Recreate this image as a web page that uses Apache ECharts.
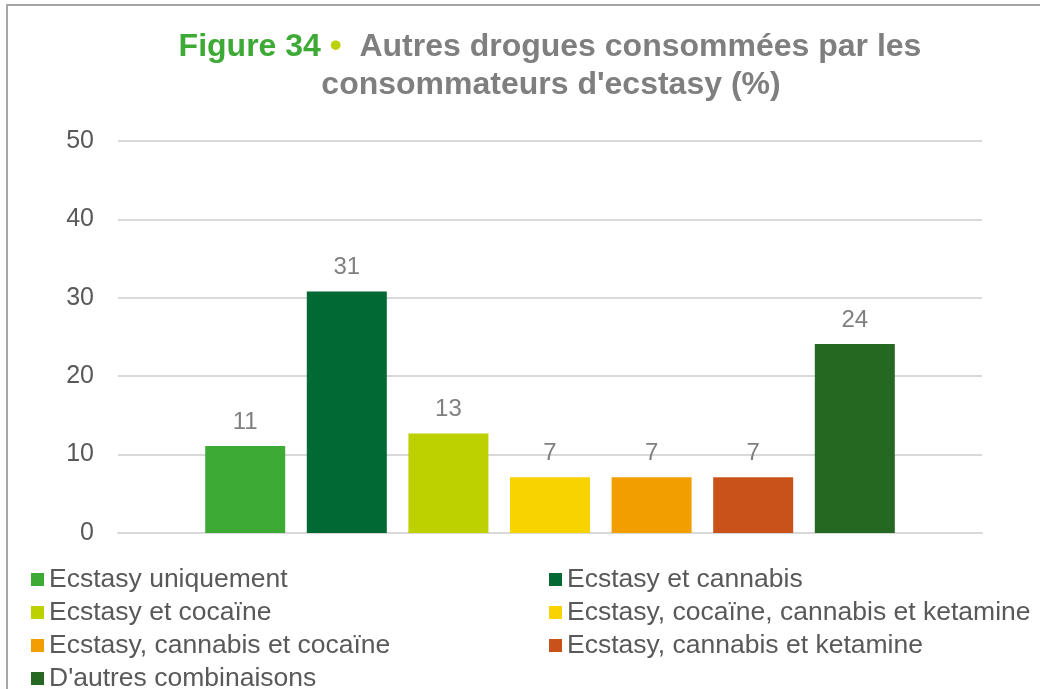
<!DOCTYPE html>
<html>
<head>
<meta charset="utf-8">
<script src="https://cdn.jsdelivr.net/npm/echarts@6/dist/echarts.min.js"></script>
<style>
  html, body { margin: 0; padding: 0; background: #fff; }
  #chart { width: 1040px; height: 689px; }
</style>
</head>
<body>
<div id="chart"></div>
<script>
// series names (one bar each, single category)
const seriesNames = [
  'Ecstasy uniquement',
  'Ecstasy et cannabis',
  'Ecstasy et cocaïne',
  'Ecstasy, cocaïne, cannabis et ketamine',
  'Ecstasy, cannabis et cocaïne',
  'Ecstasy, cannabis et ketamine',
  "D'autres combinaisons"
]
const values = [11.1, 30.8, 12.7, 7.1, 7.1, 7.1, 24.1]
const colors = ['#3DAA35', '#006934', '#BDD000', '#F9D300', '#F29E00', '#C9521A', '#246821']
const yTicks = [0, 10, 20, 30, 40, 50]

const font = '"Liberation Sans", Arial, sans-serif'

const chart = echarts.init(document.getElementById('chart'))

const series = seriesNames.map((name, i) => ({
  name: name,
  type: 'bar',
  data: [values[i]],
  barWidth: 80,
  barGap: '27%',
  itemStyle: { color: colors[i] },
  label: {
    show: true,
    position: 'top',
    distance: 12,
    color: '#7F7F7F',
    fontSize: 24,
    fontFamily: font,
    formatter: p => Math.round(p.value)
  }
}))

const legendBase = {
  orient: 'vertical',
  top: 566,
  height: 140,
  padding: 0,
  icon: 'rect',
  itemWidth: 13,
  itemHeight: 13,
  itemGap: 6,
  selectedMode: false,
  textStyle: { color: '#595959', fontSize: 26.5, lineHeight: 25, fontFamily: font }
}

chart.setOption({
  animation: false,
  backgroundColor: '#fff',
  graphic: [
    {
      type: 'rect',
      shape: { x: 7, y: 5, width: 1100, height: 800 },
      style: { fill: 'none', stroke: '#A6A6A6', lineWidth: 2 },
      silent: true
    },
    {
      type: 'text',
      x: 550, y: 47,
      style: {
        text: '{g|Figure 34} {y|•}  {t|Autres drogues consommées par les}',
        textAlign: 'center',
        textVerticalAlign: 'middle',
        font: 'bold 32px ' + font,
        rich: {
          g: { fill: '#3DAA35', fontSize: 32, fontWeight: 'bold', fontFamily: font },
          y: { fill: '#BDD000', fontSize: 34, fontWeight: 'bold', fontFamily: font },
          t: { fill: '#7F7F7F', fontSize: 32, fontWeight: 'bold', fontFamily: font }
        }
      }
    },
    {
      type: 'text',
      x: 551, y: 85,
      style: {
        text: "consommateurs d'ecstasy (%)",
        textAlign: 'center',
        textVerticalAlign: 'middle',
        font: 'bold 32px ' + font,
        fill: '#7F7F7F'
      }
    }
  ],
  legend: [
    Object.assign({}, legendBase, { left: 31, data: [seriesNames[0], seriesNames[2], seriesNames[4], seriesNames[6]] }),
    Object.assign({}, legendBase, { left: 549, data: [seriesNames[1], seriesNames[3], seriesNames[5]] })
  ],
  grid: { left: 118, right: 58, top: 141, bottom: 156 },
  xAxis: {
    type: 'category',
    data: [''],
    axisTick: { show: false },
    axisLabel: { show: false },
    axisLine: { lineStyle: { color: '#D9D9D9', width: 2 } }
  },
  yAxis: {
    type: 'value',
    min: yTicks[0],
    max: yTicks[yTicks.length - 1],
    interval: 10,
    axisLine: { show: false },
    axisTick: { show: false },
    axisLabel: { color: '#595959', fontSize: 25, fontFamily: font, margin: 24 },
    splitLine: { lineStyle: { color: '#D9D9D9', width: 2 } }
  },
  series: series
})

window.addEventListener('resize', () => {
  chart.resize()
})
</script>
</body>
</html>
